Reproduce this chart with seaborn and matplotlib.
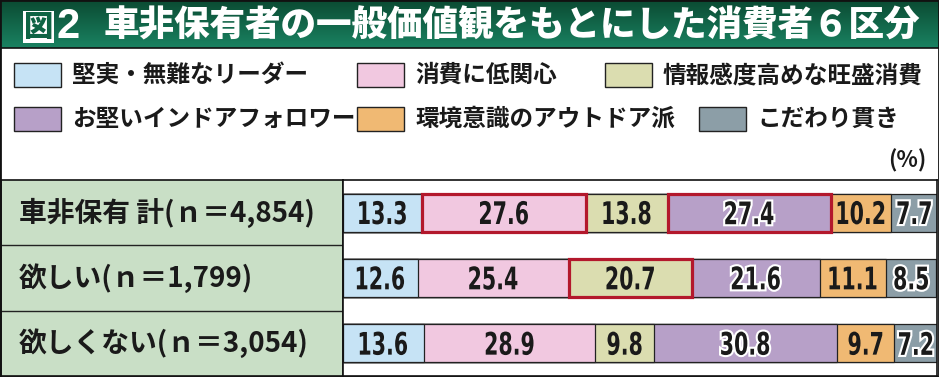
# 車非保有者の一般価値観をもとにした消費者6区分 -- stacked 100% bars

import numpy as np
import pandas as pd
import matplotlib.pyplot as plt
import matplotlib.patheffects as pe
from matplotlib.patches import Rectangle, PathPatch
from matplotlib.lines import Line2D
from matplotlib.colors import LinearSegmentedColormap
from matplotlib.textpath import TextPath
from matplotlib.font_manager import FontProperties
from matplotlib.transforms import Affine2D, ScaledTranslation
import seaborn as sns

# ---------------------------------------------------------------- data
groups = ['車非保有 計(ｎ＝4,854)', '欲しい(ｎ＝1,799)', '欲しくない(ｎ＝3,054)']
segments = ['堅実・無難なリーダー', '消費に低関心', '情報感度高めな旺盛消費',
            'お堅いインドアフォロワー', '環境意識のアウトドア派', 'こだわり貫き']

leaders = [13.3, 12.6, 13.6]
low_interest = [27.6, 25.4, 28.9]
info_sensitive = [13.8, 20.7, 9.8]
indoor_followers = [27.4, 21.6, 30.8]
outdoor = [10.2, 11.1, 9.7]
particular = [7.7, 8.5, 7.2]

# (row, segment) cells framed in red
highlights = [(0, 1), (0, 3), (1, 2)]

title = '車非保有者の一般価値観をもとにした消費者６区分'

# ---------------------------------------------------------------- style
colors = ['#c6e3f5', '#f1c8e0', '#dbddb0', '#b7a0c8', '#f0b973', '#8c9ea7']
green_col = '#c9dfc6'
red = '#b3182c'
ink = '#1a1a1a'

sns.set_style('white')
plt.rcParams['font.family'] = ['Noto Sans CJK JP', 'DejaVu Sans']
num_prop = FontProperties(family='DejaVu Sans', weight='bold', size=20)

W, H = 939, 377


def fx(px):
    return px / W


def fy(py):
    return 1 - py / H


fig = plt.figure(figsize=(W / 100, H / 100), dpi=100)
fig.patch.set_facecolor('white')


def narrow_label(ax, x, y, s, outline=False):
    # condensed, slightly tall digits like the original print font
    tp = TextPath((0, 0), s, prop=num_prop)
    bb = tp.get_extents()
    k = fig.dpi / 72
    tr = (Affine2D().translate(-(bb.x0 + bb.x1) / 2, -(bb.y0 + bb.y1) / 2)
          .scale(0.74 * k, 1.12 * k)
          + ScaledTranslation(x, y, ax.transData))
    p = PathPatch(tp, transform=tr, facecolor=ink, edgecolor='none', zorder=6)
    if outline:
        p.set_path_effects([pe.withStroke(linewidth=3, foreground='white')])
    ax.add_patch(p)


# ---------------------------------------------------------------- title band
tax = fig.add_axes([0, fy(48), 1, 48 / H])
cmap = LinearSegmentedColormap.from_list('band', ['#0b4b33', '#1a8261'])
tax.imshow(np.linspace(0, 1, 50).reshape(-1, 1), aspect='auto', cmap=cmap,
           extent=(0, 1, 0, 1), interpolation='bicubic')
tax.set_axis_off()
fig.text(fx(24), fy(27), '図', color='#0e6444', fontsize=21, fontweight='heavy',
         va='center', ha='left',
         bbox=dict(boxstyle='square,pad=0.04', facecolor='white', edgecolor='none'))
fig.text(fx(56), fy(27), '2', color='white', fontsize=30, fontweight='heavy',
         va='center', ha='left', family=['Liberation Sans', 'DejaVu Sans'])
fig.text(fx(104), fy(26), title, color='white', fontsize=25.6, fontweight='heavy',
         va='center', ha='left')
fig.add_artist(Line2D([0, 1], [fy(48), fy(48)], color='#111111', lw=1.2,
                      transform=fig.transFigure))

# ---------------------------------------------------------------- legend
legend_rows = [[(14, 0), (357, 1), (605, 2)], [(14, 3), (357, 4), (699, 5)]]
for row, yc in zip(legend_rows, [75, 119]):
    for x0, k in row:
        fig.add_artist(Rectangle((fx(x0), fy(yc + 12)), 47 / W, 24 / H,
                                 transform=fig.transFigure, facecolor=colors[k],
                                 edgecolor='#222222', lw=1))
        fig.text(fx(x0 + 58), fy(yc), segments[k], fontsize=17, fontweight='bold',
                 color=ink, va='center', ha='left')

fig.text(fx(926), fy(161), '(%)', fontsize=16, fontweight='bold', color=ink,
         va='center', ha='right')

# ---------------------------------------------------------------- table
wide = pd.DataFrame(dict(zip(segments, [leaders, low_interest, info_sensitive,
                                        indoor_followers, outdoor, particular])),
                    index=groups)
ends = wide.cumsum(axis=1)
starts = ends - wide
ends_long = ends.reset_index(names='group')

bottom, height = fy(376), (376 - 180) / H

lax = fig.add_axes([fx(1), bottom, fx(343) - fx(1), height])
lax.set_facecolor(green_col)
lax.set_xlim(0, 1)
lax.set_ylim(2.5, -0.5)
for yy in [0.5, 1.5]:
    lax.axhline(yy, color='#222222', lw=1)
for i, g in enumerate(groups):
    lax.text(0.052, i, g, fontsize=20, fontweight='bold', color=ink,
             va='center', ha='left')
lax.set_xticks([])
lax.set_yticks([])

ax = fig.add_axes([fx(343), bottom, fx(937) - fx(343), height])
for seg, col in reversed(list(zip(segments, colors))):
    sns.barplot(data=ends_long, x=seg, y='group', order=groups, orient='h',
                color=col, saturation=1, width=0.58, edgecolor='#222222',
                linewidth=0.9, errorbar=None, ax=ax)

for i, j in highlights:
    ax.barh(i, wide.iloc[i, j], left=starts.iloc[i, j], height=0.58, fill=False,
            edgecolor=red, linewidth=2.3, zorder=5)

ax.set_xlim(0, 100)
ax.set_ylim(2.5, -0.5)
ax.set(xlabel='', ylabel='')
ax.set_xticks([])
ax.set_yticks([])

for i, g in enumerate(groups):
    for j, seg in enumerate(segments):
        v = wide.loc[g, seg]
        narrow_label(ax, starts.loc[g, seg] + v / 2, i, f'{v:.1f}',
                     outline=j in (3, 5))

ax.set_xlim(0, 100)
ax.set_ylim(2.5, -0.5)

for a in (ax, lax):
    for s in a.spines.values():
        s.set_visible(True)
        s.set_color('#111111')
        s.set_linewidth(1.2)

fig.add_artist(Rectangle((0, 0), 1, 1, transform=fig.transFigure, fill=False,
                         edgecolor='#111111', lw=2))

plt.savefig('out.png', dpi=100)
